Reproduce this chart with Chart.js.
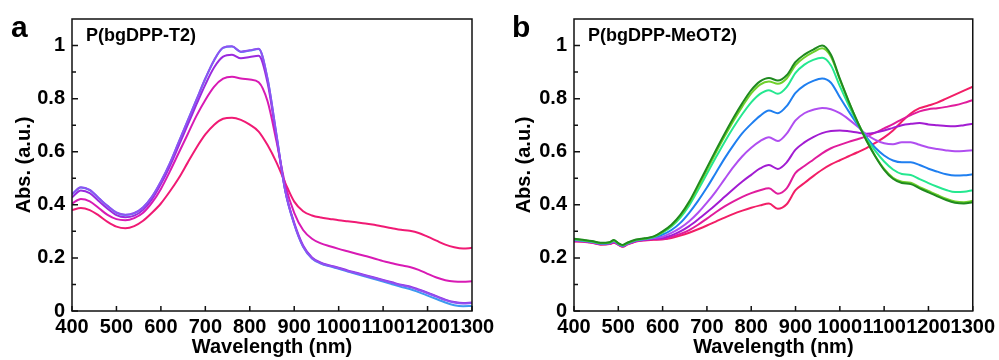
<!DOCTYPE html>
<html>
<head>
<meta charset="utf-8">
<script src="https://cdn.jsdelivr.net/npm/chart.js@4.4.1/dist/chart.umd.min.js"></script>
<style>
  body { margin: 0; background: #fff; width: 999px; height: 360px; overflow: hidden; position: relative;
         font-family: "Liberation Sans", Arial, sans-serif; }
  .panel { position: absolute; top: 0; height: 360px; }
  .letter { position: absolute; font-weight: bold; font-size: 30px; line-height: 1; color: #000; }
  .tag { position: absolute; font-weight: bold; font-size: 18px; line-height: 1; color: #000; }
</style>
</head>
<body>
<div class="panel" style="left:0;width:500px"><canvas id="chartA"></canvas></div>
<div class="panel" style="left:500px;width:499px"><canvas id="chartB"></canvas></div>
<div class="letter" style="left:11px;top:12px">a</div>
<div class="letter" style="left:512px;top:12px">b</div>
<div class="tag" style="left:86px;top:26px">P(bgDPP-T2)</div>
<div class="tag" style="left:588px;top:26px">P(bgDPP-MeOT2)</div>

<script>
// panel a: P(bgDPP-T2)
const wlA = [400,420,440,460,480,500,520,540,560,580,600,620,640,660,680,700,720,740,760,780,800,820,840,860,880,900,920,940,960,980,1000,1020,1040,1060,1080,1100,1120,1140,1160,1180,1200,1220,1240,1260,1280,1300];
const absA1 = [0.439,0.465,0.455,0.425,0.395,0.370,0.362,0.368,0.390,0.430,0.487,0.555,0.635,0.715,0.795,0.875,0.945,0.991,0.996,0.976,0.981,0.987,0.874,0.664,0.451,0.327,0.242,0.198,0.179,0.168,0.159,0.149,0.139,0.130,0.120,0.111,0.101,0.091,0.083,0.071,0.058,0.045,0.032,0.022,0.018,0.019];
const absA2 = [0.440,0.466,0.456,0.426,0.396,0.371,0.363,0.369,0.391,0.431,0.488,0.556,0.636,0.716,0.796,0.876,0.946,0.992,0.997,0.977,0.982,0.988,0.875,0.665,0.452,0.328,0.243,0.199,0.180,0.170,0.161,0.151,0.142,0.133,0.124,0.115,0.106,0.097,0.090,0.079,0.067,0.054,0.041,0.032,0.028,0.030];
const absA3 = [0.428,0.454,0.444,0.414,0.385,0.361,0.353,0.359,0.381,0.421,0.478,0.545,0.622,0.700,0.778,0.853,0.918,0.958,0.965,0.952,0.957,0.962,0.860,0.655,0.452,0.332,0.247,0.202,0.182,0.172,0.163,0.153,0.144,0.135,0.126,0.117,0.108,0.099,0.092,0.081,0.069,0.056,0.043,0.034,0.030,0.032];
const absA4 = [0.405,0.422,0.413,0.388,0.362,0.346,0.342,0.350,0.370,0.408,0.460,0.525,0.595,0.665,0.735,0.795,0.845,0.875,0.882,0.876,0.872,0.862,0.790,0.640,0.475,0.370,0.305,0.272,0.255,0.244,0.234,0.225,0.216,0.207,0.198,0.188,0.180,0.172,0.166,0.155,0.140,0.126,0.116,0.111,0.110,0.112];
const absA5 = [0.380,0.388,0.380,0.360,0.336,0.318,0.312,0.320,0.340,0.370,0.405,0.450,0.500,0.558,0.615,0.665,0.702,0.724,0.728,0.720,0.702,0.676,0.625,0.560,0.482,0.412,0.376,0.360,0.352,0.347,0.342,0.338,0.334,0.330,0.325,0.318,0.312,0.306,0.302,0.294,0.280,0.265,0.250,0.240,0.235,0.238];
const colorsA = ['#3d9af0','#8f52f2','#9a2ade','#d81ab4','#f01a74'];

// panel b: P(bgDPP-MeOT2)
const wlB = [400,420,440,460,480,490,500,510,520,540,560,580,600,620,640,660,680,700,720,740,760,780,800,820,840,860,880,900,920,940,960,980,1000,1020,1040,1060,1080,1100,1120,1140,1160,1180,1200,1220,1240,1260,1280,1300];
const absB1 = [0.272,0.268,0.264,0.257,0.259,0.267,0.256,0.249,0.257,0.269,0.274,0.281,0.300,0.325,0.362,0.412,0.475,0.540,0.605,0.668,0.728,0.783,0.832,0.865,0.878,0.868,0.888,0.938,0.966,0.985,1.000,0.965,0.875,0.790,0.712,0.642,0.582,0.532,0.498,0.482,0.478,0.462,0.447,0.432,0.418,0.408,0.405,0.410];
const absB2 = [0.271,0.267,0.263,0.256,0.258,0.266,0.255,0.248,0.256,0.268,0.273,0.280,0.298,0.322,0.358,0.407,0.468,0.532,0.596,0.658,0.717,0.771,0.820,0.853,0.865,0.856,0.876,0.926,0.955,0.975,0.990,0.958,0.872,0.789,0.712,0.643,0.584,0.535,0.502,0.487,0.483,0.467,0.452,0.437,0.423,0.413,0.410,0.415];
const absB3 = [0.270,0.266,0.262,0.255,0.257,0.265,0.254,0.247,0.255,0.267,0.272,0.279,0.295,0.318,0.352,0.398,0.456,0.517,0.578,0.637,0.692,0.742,0.786,0.818,0.832,0.818,0.843,0.897,0.928,0.946,0.954,0.925,0.847,0.775,0.708,0.650,0.603,0.563,0.533,0.516,0.512,0.497,0.482,0.468,0.456,0.448,0.449,0.455];
const absB4 = [0.269,0.265,0.261,0.254,0.256,0.264,0.253,0.246,0.254,0.266,0.271,0.278,0.288,0.305,0.332,0.370,0.415,0.465,0.520,0.575,0.625,0.670,0.705,0.735,0.755,0.745,0.772,0.822,0.850,0.867,0.876,0.860,0.805,0.752,0.702,0.655,0.615,0.586,0.567,0.560,0.560,0.550,0.536,0.525,0.515,0.510,0.511,0.515];
const absB5 = [0.267,0.264,0.260,0.253,0.255,0.262,0.252,0.245,0.253,0.265,0.270,0.275,0.280,0.294,0.313,0.338,0.370,0.408,0.450,0.497,0.543,0.583,0.615,0.640,0.655,0.640,0.668,0.718,0.745,0.758,0.765,0.760,0.745,0.722,0.695,0.665,0.645,0.632,0.628,0.636,0.636,0.626,0.616,0.610,0.605,0.602,0.603,0.606];
const absB6 = [0.265,0.263,0.259,0.252,0.254,0.260,0.251,0.244,0.252,0.264,0.268,0.272,0.275,0.285,0.300,0.320,0.345,0.372,0.400,0.430,0.460,0.488,0.513,0.537,0.550,0.535,0.560,0.608,0.635,0.655,0.670,0.678,0.680,0.677,0.672,0.668,0.672,0.680,0.690,0.700,0.705,0.708,0.703,0.700,0.697,0.696,0.700,0.705];
const absB7 = [0.263,0.262,0.258,0.251,0.253,0.258,0.250,0.243,0.251,0.263,0.267,0.270,0.270,0.279,0.290,0.305,0.325,0.348,0.372,0.394,0.413,0.430,0.444,0.455,0.462,0.442,0.462,0.520,0.546,0.570,0.594,0.613,0.626,0.637,0.647,0.658,0.672,0.688,0.704,0.722,0.738,0.752,0.760,0.764,0.769,0.775,0.784,0.795];
const absB8 = [0.262,0.261,0.257,0.250,0.252,0.257,0.249,0.242,0.250,0.262,0.266,0.268,0.270,0.275,0.284,0.295,0.308,0.322,0.337,0.352,0.366,0.378,0.389,0.398,0.405,0.385,0.402,0.455,0.482,0.508,0.532,0.552,0.568,0.583,0.598,0.614,0.633,0.654,0.680,0.714,0.744,0.764,0.774,0.785,0.800,0.815,0.830,0.845];
const colorsB = ['#1f8a1f','#6fd12a','#25e890','#1f7ff0','#b04ef0','#a21cd2','#e01c9c','#f21e66'];

const yTicks = [0, 0.2, 0.4, 0.6, 0.8, 1];

// box round the plot and inward tick marks
const frame = {
  id: 'frame',
  afterDatasetsDraw(chart) {
    const { ctx, chartArea: a, scales: { x, y } } = chart;
    ctx.save();
    ctx.strokeStyle = '#111';
    ctx.lineWidth = 1.5;
    ctx.strokeRect(a.left, a.top, a.right - a.left, a.bottom - a.top);
    ctx.beginPath();
    x.ticks.forEach(t => {
      const px = x.getPixelForValue(t.value);
      ctx.moveTo(px, a.bottom);
      ctx.lineTo(px, a.bottom - 5);
    });
    y.ticks.forEach(t => {
      if (t.value > 1.05) return;
      const py = y.getPixelForValue(t.value);
      const major = Math.round(t.value * 10) % 2 === 0;
      ctx.moveTo(a.left, py);
      ctx.lineTo(a.left + (major ? 6 : 4), py);
    });
    ctx.stroke();
    ctx.restore();
  }
};

const tickFont = { family: '"Liberation Sans", Arial, sans-serif', size: 20, weight: 'bold' };
const titleFont = { family: '"Liberation Sans", Arial, sans-serif', size: 20, weight: 'bold' };

// first entry of the list ends up drawn on top
function makeChart(id, wl, series, colors, padRight, yWidth) {
  const datasets = series.map((vals, i) => ({
    data: wl.map((w, j) => ({ x: w, y: vals[j] })),
    borderColor: colors[i],
    borderWidth: 2,
    pointRadius: 0,
    fill: false,
    cubicInterpolationMode: 'monotone'
  }));
  return new Chart(document.getElementById(id), {
    type: 'line',
    data: { datasets },
    options: {
      responsive: true,
      maintainAspectRatio: false,
      animation: false,
      layout: { padding: { top: 17, right: padRight, left: 0, bottom: 0 } },
      plugins: { legend: { display: false }, tooltip: { enabled: false } },
      scales: {
        x: {
          type: 'linear', min: 400, max: 1300,
          grid: { display: false, drawTicks: false },
          border: { display: false },
          ticks: {
            stepSize: 100, autoSkip: false, maxRotation: 0, padding: 4, color: '#000', font: tickFont,
            callback: v => String(v)
          },
          title: { display: true, text: 'Wavelength (nm)', color: '#000', font: titleFont, padding: { top: 0, bottom: 1 } },
          afterFit: s => { s.height = 49; }
        },
        y: {
          min: 0, max: 1.1,
          grid: { display: false, drawTicks: false },
          border: { display: false },
          ticks: {
            stepSize: 0.1, autoSkip: false, padding: 7, color: '#000', font: tickFont,
            callback: v => {
              const r = Math.round(v * 10) / 10;
              return yTicks.includes(r) ? String(r) : '';
            }
          },
          title: { display: true, text: 'Abs. (a.u.)', color: '#000', font: titleFont, padding: { top: 12, bottom: 0 } },
          afterFit: s => { s.width = yWidth; }
        }
      }
    },
    plugins: [frame]
  });
}

makeChart('chartA', wlA, [absA2, absA3, absA4, absA5, absA1],
  [colorsA[1], colorsA[2], colorsA[3], colorsA[4], colorsA[0]], 28, 72);
makeChart('chartB', wlB, [absB1, absB2, absB3, absB4, absB5, absB6, absB7, absB8], colorsB, 25, 74);
</script>
</body>
</html>
